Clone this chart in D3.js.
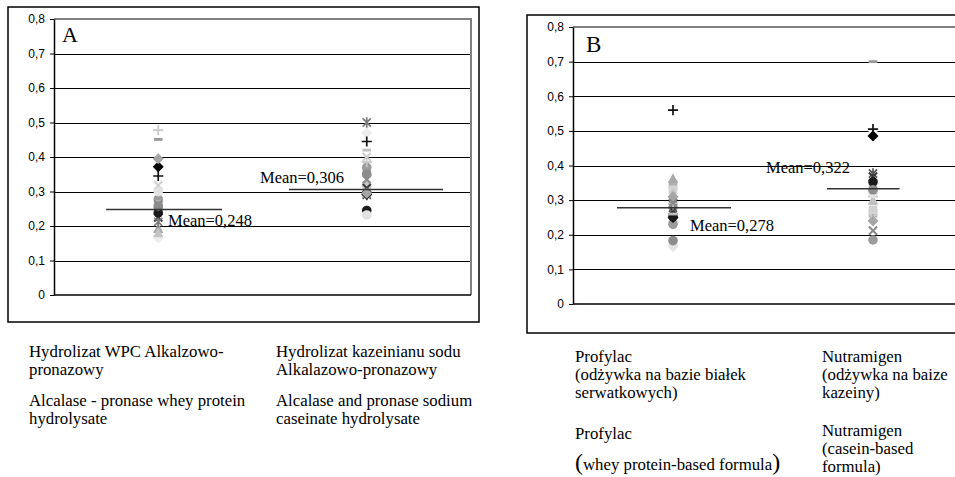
<!DOCTYPE html>
<html><head><meta charset="utf-8">
<script src="https://cdn.jsdelivr.net/npm/d3@7"></script>
<style>body{margin:0;background:#fff}svg{display:block}</style>
</head><body><svg id="c" width="955" height="477"></svg>
<script>
// ---------- DATA ----------
const yTicks = [0, 0.1, 0.2, 0.3, 0.4, 0.5, 0.6, 0.7, 0.8];
const categoriesA = ["Hydrolizat WPC Alkalzowo-pronazowy", "Hydrolizat kazeinianu sodu Alkalazowo-pronazowy"];
const categoriesB = ["Profylac", "Nutramigen"];
const seriesIds = d3.range(1, 21).map(i => "S" + i);
// values per series (same series order) for each category
const valuesA1 = [0.165,0.268,0.192,0.318,0.245,0.278,0.345,0.451,0.372,0.255,0.180,0.225,0.212,0.238,0.478,0.270,0.395,0.300,0.262,0.258];
const valuesA2 = [0.470,0.360,0.300,0.400,0.290,0.370,0.445,0.285,0.292,0.305,0.325,0.310,0.500,0.245,0.385,0.420,0.295,0.232,0.335,0.350];
const valuesB1 = [0.165,0.345,0.362,0.300,0.278,0.230,0.560,0.235,0.250,0.330,0.320,0.270,0.285,0.252,0.290,0.260,0.310,0.170,0.292,0.183];
const valuesB2 = [0.495,0.262,0.335,0.250,0.377,0.185,0.505,0.700,0.485,0.272,0.300,0.368,0.345,0.352,0.310,0.290,0.240,0.320,0.212,0.330];
const meanLinesA = [0.248, 0.306];
const meanTextA = ["Mean=0,248", "Mean=0,306"];
const meanLinesB = [0.278, 0.333];
const meanTextB = ["Mean=0,278", "Mean=0,322"];
const captionA1 = ["Hydrolizat WPC Alkalzowo-", "pronazowy", "Alcalase - pronase whey protein", "hydrolysate"];
const captionA2 = ["Hydrolizat kazeinianu sodu", "Alkalazowo-pronazowy", "Alcalase and pronase sodium", "caseinate hydrolysate"];
const captionB1 = ["Profylac", "(odżywka na bazie białek", "serwatkowych)", "Profylac", "whey protein-based formula"];
const captionB2 = ["Nutramigen", "(odżywka na baize", "kazeiny)", "Nutramigen", "(casein-based", "formula)"];

// ---------- STYLES ----------
const markerShapes = ["diamond","square","triangle","x","star","circle","plus","dash","diamond","square","triangle","x","star","circle","plus","dash","diamond","circle","x","circle"];
const markerColors = ["#ececec","#b0b0b0","#a8a8a8","#cfcfcf","#555555","#9c9c9c","#111111","#999999","#000000","#d2d2d2","#c4c4c4","#3a3a3a","#7a7a7a","#1a1a1a","#c8c8c8","#c0c0c0","#a6a6a6","#e2e2e2","#8a8a8a","#8c8c8c"];
const S = 1.2; // marker scale

const svg = d3.select("#c");
const serif = '"Liberation Serif","Times New Roman",serif';
const sans = '"Liberation Sans",Arial,sans-serif';
const fmt = d => d === 0 ? "0" : d3.format(".1f")(d).replace(".", ",");

function marker(g, shape, color, cx, cy) {
  const t = `translate(${cx},${cy}) scale(${S})`;
  let p;
  if (shape === "diamond") p = g.append("path").attr("d", "M0,-4.6L4.6,0L0,4.6L-4.6,0Z").attr("fill", color);
  else if (shape === "square") p = g.append("path").attr("d", "M-3.6,-3.6H3.6V3.6H-3.6Z").attr("fill", color);
  else if (shape === "triangle") p = g.append("path").attr("d", "M0,-4.6L4.3,3.6L-4.3,3.6Z").attr("fill", color);
  else if (shape === "circle") p = g.append("circle").attr("r", 4).attr("fill", color);
  else if (shape === "x") p = g.append("path").attr("d", "M-3.4,-3.4L3.4,3.4M-3.4,3.4L3.4,-3.4").attr("stroke", color).attr("stroke-width", 1.7).attr("fill", "none");
  else if (shape === "star") p = g.append("path").attr("d", "M-3.4,-3.4L3.4,3.4M-3.4,3.4L3.4,-3.4M0,-4.4V4.4").attr("stroke", color).attr("stroke-width", 1.4).attr("fill", "none");
  else if (shape === "plus") p = g.append("path").attr("d", "M-4.2,0H4.2M0,-4.2V4.2").attr("stroke", color).attr("stroke-width", 1.4).attr("fill", "none");
  else if (shape === "dash") p = g.append("path").attr("d", "M-3.6,-1.2H3.6V1.2H-3.6Z").attr("fill", color);
  p.attr("transform", t);
}

function panel(cfg) {
  const g = svg.append("g");
  g.append("rect").attr("x", cfg.frame[0]).attr("y", cfg.frame[1]).attr("width", cfg.frame[2]).attr("height", cfg.frame[3])
    .attr("fill", "none").attr("stroke", "#000").attr("stroke-width", 1.5);
  const y = d3.scaleLinear().domain([0, 0.8]).range([cfg.bottom, cfg.top]);
  const x = d3.scaleLinear().domain([0, 2]).range([cfg.left, cfg.right]);
  g.append("g").selectAll("line").data(yTicks.filter(t => t > 0 && t < 0.8)).join("line")
    .attr("x1", cfg.left).attr("x2", cfg.right).attr("y1", d => Math.round(y(d)) + 0.5).attr("y2", d => Math.round(y(d)) + 0.5)
    .attr("stroke", "#000").attr("stroke-width", 1);
  g.append("path").attr("d", `M${cfg.left},${y(0.8)}H${cfg.right}V${cfg.bottom}`)
    .attr("fill", "none").attr("stroke", "#808080").attr("stroke-width", 2);
  g.append("line").attr("x1", cfg.left).attr("x2", cfg.right).attr("y1", cfg.bottom).attr("y2", cfg.bottom)
    .attr("stroke", "#000").attr("stroke-width", 1.5);
  const ax = g.append("g").attr("transform", `translate(${cfg.left},0)`)
    .call(d3.axisLeft(y).tickValues(yTicks).tickSize(4).tickSizeOuter(0).tickPadding(5).tickFormat(fmt));
  ax.attr("font-family", null).attr("font-size", null);
  ax.select(".domain").attr("stroke", "#000").attr("stroke-width", 1.5);
  ax.selectAll(".tick line").attr("stroke", "#000");
  ax.selectAll("text").style("font-family", sans).style("font-size", "12px").attr("fill", "#000");
  const pts = g.append("g");
  cfg.values.forEach((vals, c) => {
    vals.forEach((v, i) => marker(pts, markerShapes[i], markerColors[i], x(c + 0.5), y(v)));
  });
  cfg.means.forEach((m, c) => {
    g.append("line").attr("x1", x(cfg.meanExt[c][0])).attr("x2", x(cfg.meanExt[c][1]))
      .attr("y1", y(m)).attr("y2", y(m)).attr("stroke", "#333").attr("stroke-width", 1.6);
    g.append("text").attr("x", cfg.meanLab[c][0]).attr("y", cfg.meanLab[c][1])
      .style("font-family", serif).style("font-size", "16.5px").attr("fill", "#000").text(cfg.meanText[c]);
  });
  g.append("text").attr("x", cfg.letter[0]).attr("y", cfg.letter[1]).style("font-family", serif)
    .style("font-size", cfg.letter[2] + "px").text(cfg.letterText);
}

panel({
  frame: [8, 7, 471, 315], left: 54, right: 471, top: 19, bottom: 295,
  values: [valuesA1, valuesA2], means: meanLinesA, meanText: meanTextA,
  meanExt: [[0.25, 0.806], [1.127, 1.866]], meanLab: [[168, 226], [260, 183]],
  letter: [62, 42, 22], letterText: "A"
});
panel({
  frame: [527, 15, 455, 318], left: 573, right: 973, top: 27, bottom: 304,
  values: [valuesB1, valuesB2], means: meanLinesB, meanText: meanTextB,
  meanExt: [[0.22, 0.79], [1.27, 1.633]], meanLab: [[690, 231], [766, 173]],
  letter: [586, 52, 23], letterText: "B"
});

function caption(lines, xPos, ys) {
  const t = svg.append("g");
  lines.forEach((l, i) => t.append("text").attr("x", xPos).attr("y", ys[i])
    .style("font-family", serif).style("font-size", "16.8px").attr("fill", "#000").text(l));
  return t;
}
caption(captionA1, 29, [357, 375, 406, 424]);
caption(captionA2, 276, [357, 375, 406, 424]);
const cb1 = caption(captionB1.slice(0, 4), 575, [362, 380, 398, 439]);
const wl = cb1.append("text").attr("x", 575).attr("y", 470).style("font-family", serif).style("font-size", "16.8px");
wl.append("tspan").style("font-size", "24px").text("(");
wl.append("tspan").text(captionB1[4]);
wl.append("tspan").style("font-size", "24px").text(")");
caption(captionB2, 822, [362, 380, 398, 436, 454, 472]);
</script></body></html>
